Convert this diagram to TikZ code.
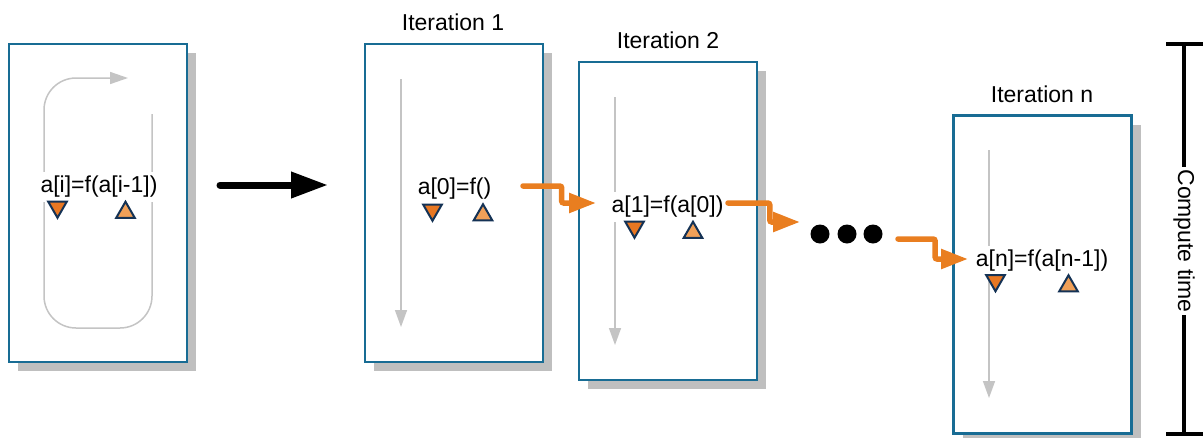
\documentclass[tikz,border=0pt]{standalone}
\usepackage{fontspec}
\setmainfont{Liberation Sans}
\usetikzlibrary{shapes.geometric,arrows.meta,shadows,calc}
\definecolor{boxblue}{RGB}{24,108,148}
\definecolor{shadowgray}{RGB}{191,191,191}
\definecolor{flowgray}{RGB}{196,196,196}
\definecolor{orangeA}{RGB}{233,126,32}
\definecolor{triDark}{RGB}{232,119,34}
\definecolor{triLight}{RGB}{240,160,88}
\definecolor{navy}{RGB}{20,50,85}
\begin{document}
\begin{tikzpicture}[x=1pt,y=-1pt,
  box/.style={draw=boxblue, line width=2.4pt, fill=white, minimum width=178pt, minimum height=318pt, inner sep=0pt,
    drop shadow={shadow xshift=9pt, shadow yshift=-9pt, fill=shadowgray, opacity=1}},
  gline/.style={draw=flowgray, line width=1.5pt, -{Triangle[length=17pt,width=12pt]}},
  lbl/.style={font=\fontsize{23}{27}\selectfont, inner sep=0pt},
  expr/.style={lbl, fill=white, inner sep=4pt},
  tridown/.style={regular polygon, regular polygon sides=3, shape border rotate=180, draw=navy, line width=2pt, fill=triDark, inner sep=0pt, minimum size=21.5pt},
  triup/.style={regular polygon, regular polygon sides=3, draw=navy, line width=2pt, fill=triLight, inner sep=0pt, minimum size=21.5pt},
  oarrow/.style={draw=orangeA, line width=5.5pt, line cap=round, rounded corners=2pt, -{Triangle[length=27pt,width=19pt]}},
  bigarrow/.style={draw=black, line width=7pt, line cap=round, -{Triangle[length=37pt,width=25pt]}},
  dot/.style={circle, fill=black, inner sep=0pt, minimum size=19pt},
  bracket/.style={draw=black, line width=3.5pt}
]
\useasboundingbox (0,0) rectangle (1203,437);

% boxes
\node[box] (b0) at (98,203) {};
\node[box] (b1) at (454,203) {};
\node[box] (b2) at (668,221) {};
\node[box] (bn) at (1042.5,274.5) {};

% flow lines inside boxes
\draw[draw=flowgray, line width=1.5pt, rounded corners=32pt, -{Triangle[length=18pt,width=12pt]}]
  (152,114) -- (152,328) -- (44,328) -- (44,78) -- (128,78);
\draw[gline] (401,79) -- (401,327);
\draw[gline] (615,97) -- (615,345);
\draw[gline] (989,150) -- (989,398);

% iteration labels
\node[lbl, anchor=base] (l1) at (453,30) {Iteration 1};
\node[lbl, anchor=base] (l2) at (668,48) {Iteration 2};
\node[lbl, anchor=base] (ln) at (1042,102) {Iteration n};

% expressions
\node[expr] (t0) at (99,187) {a[i]=f(a[i-1])};
\node[expr] (t1) at (454.5,188.5) {a[0]=f()};
\node[expr] (t2) at (667.5,207) {a[1]=f(a[0])};
\node[expr] (tn) at (1042,260.5) {a[n]=f(a[n-1])};

% triangles
\node[tridown] (d0) at (57.5,207) {};
\node[triup]   (u0) at (125.5,212.5) {};
\node[tridown] (d1) at (432.5,210) {};
\node[triup]   (u1) at (483,215) {};
\node[tridown] (d2) at (634.5,227) {};
\node[triup]   (u2) at (693,232.5) {};
\node[tridown] (dn) at (995.5,280.5) {};
\node[triup]   (un) at (1068.5,286) {};

% big arrow
\coordinate (ba) at (220,185);
\coordinate (bb) at (328,185);
\draw[bigarrow] (ba) -- (bb);

% dots
\node[dot] (p1) at (820,234) {};
\node[dot] (p2) at (847,234) {};
\node[dot] (p3) at (873,234) {};

% orange connectors
\coordinate (c1s) at (523,186);
\coordinate (c1e) at (596,203);
\coordinate (c2s) at (728,203);
\coordinate (c2e) at (800,222);
\coordinate (c3s) at (898,239);
\coordinate (c3e) at (968,259);
\draw[oarrow] (c1s) -| ($(c1s)!0.53!(c1e)$) |- (c1e);
\draw[oarrow] (c2s) -| ($(c2s)!0.58!(c2e)$) |- (c2e);
\draw[oarrow] (c3s) -| ($(c3s)!0.53!(c3e)$) |- (c3e);

% compute time bracket
\coordinate (ct) at (1184,44);
\coordinate (cb) at (1184,434);
\coordinate (ctl) at (1166,44);
\coordinate (ctr) at (1210,44);
\coordinate (cbl) at (1166,434);
\coordinate (cbr) at (1210,434);
\draw[bracket] (ct) -- (cb);
\draw[bracket] (ctl) -- (ctr);
\draw[bracket] (cbl) -- (cbr);
\node[lbl, fill=white, inner sep=2pt, rotate=-90] (ctime) at (1184,241) {Compute time};
\end{tikzpicture}
\end{document}
